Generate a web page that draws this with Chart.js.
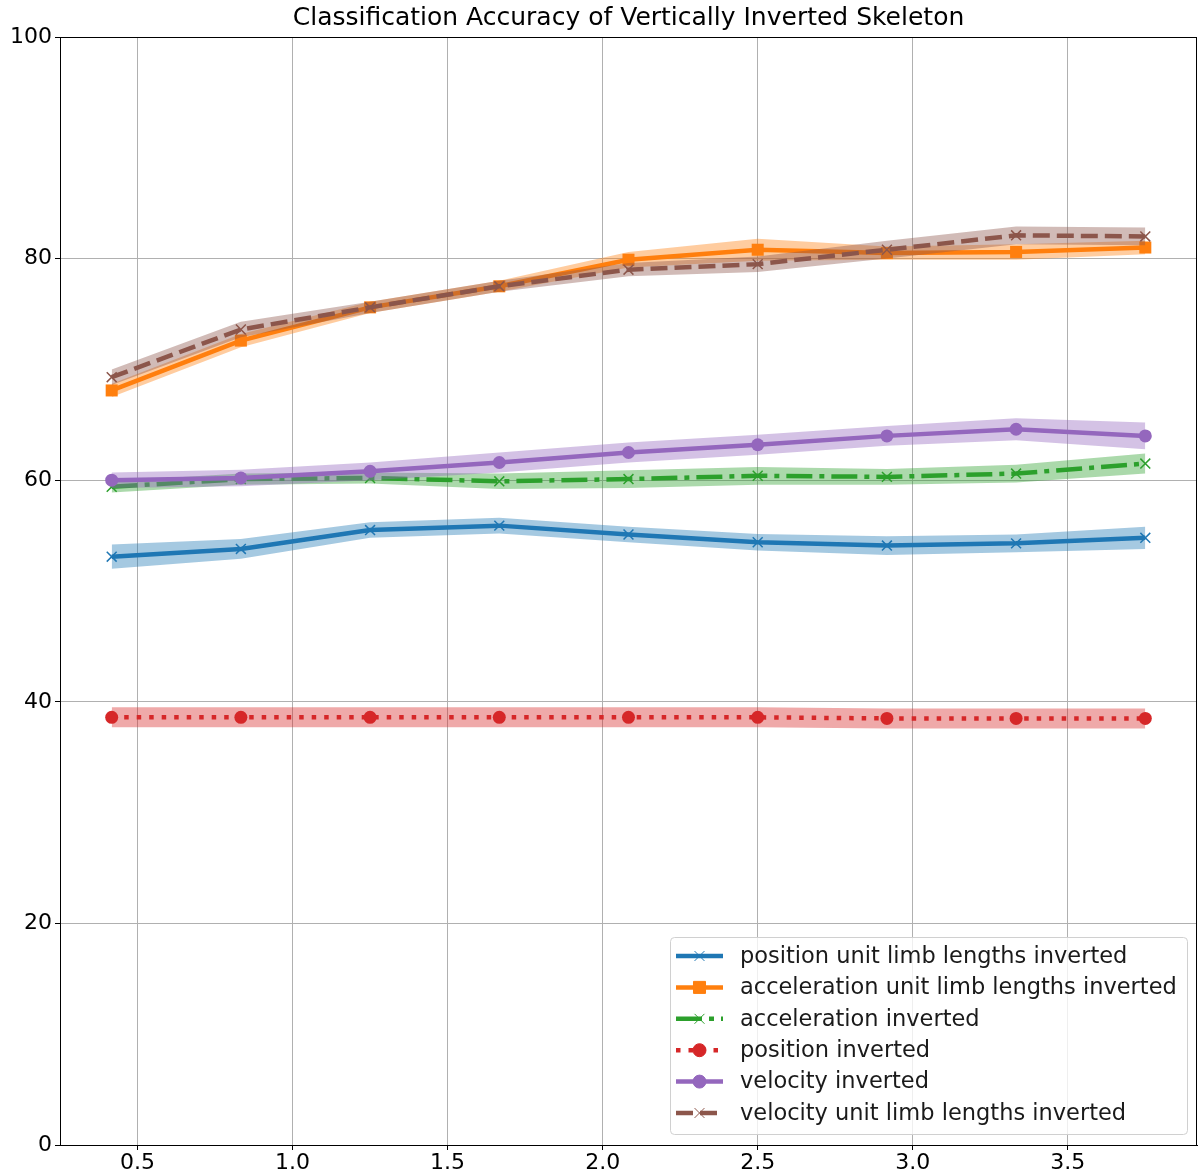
<!DOCTYPE html>
<html>
<head>
<meta charset="utf-8">
<script src="https://cdn.jsdelivr.net/npm/chart.js@4.4.1/dist/chart.umd.min.js"></script>
<style>
  html, body { margin: 0; padding: 0; background: #fff; overflow: hidden; }
  #wrap { width: 1198px; height: 1173px; }
  canvas { display: block; }
</style>
</head>
<body>
<div id="wrap"><canvas id="chart" width="1198" height="1173"></canvas></div>
<script>
// x positions of the runs
const xValues = [0.4167, 0.8333, 1.25, 1.6667, 2.0833, 2.5, 2.9167, 3.3333, 3.75];
const xTicks = [0.5, 1.0, 1.5, 2.0, 2.5, 3.0, 3.5];
const yTicks = [0, 20, 40, 60, 80, 100];

// series means
const posUnitInv = [53.1, 53.8, 55.5, 55.9, 55.1, 54.4, 54.1, 54.3, 54.8];
const accUnitInv = [68.1, 72.6, 75.6, 77.5, 79.9, 80.8, 80.5, 80.6, 81.0];
const accInv     = [59.4, 60.1, 60.2, 59.9, 60.1, 60.4, 60.3, 60.6, 61.5];
const posInv     = [38.6, 38.6, 38.6, 38.6, 38.6, 38.6, 38.5, 38.5, 38.5];
const velInv     = [60.0, 60.2, 60.8, 61.6, 62.5, 63.2, 64.0, 64.6, 64.0];
const velUnitInv = [69.3, 73.6, 75.6, 77.5, 79.0, 79.5, 80.8, 82.1, 82.0];

// half-width of the shaded bands
const posUnitSpread = [1.1, 0.9, 0.7, 0.7, 0.7, 0.75, 0.85, 0.8, 1.0];
const accUnitSpread = [0.6, 0.6, 0.5, 0.5, 0.7, 1.0, 0.6, 0.7, 0.6];
const accSpread     = [0.5, 0.5, 0.5, 0.7, 0.8, 0.8, 0.7, 0.8, 0.9];
const posSpread     = [0.9, 0.9, 0.9, 0.9, 0.9, 0.9, 0.9, 0.9, 0.9];
const velSpread     = [0.7, 0.75, 0.8, 0.9, 0.9, 0.9, 0.9, 1.0, 1.2];
const velUnitSpread = [0.7, 0.7, 0.5, 0.5, 0.6, 0.7, 0.8, 0.8, 0.8];

const FONT = "'DejaVu Sans', sans-serif";

const series = [
    { label: 'position unit limb lengths inverted', mean: posUnitInv, spread: posUnitSpread,
      color: '#1f77b4', band: 'rgba(31,119,180,0.4)', dash: [], style: 'crossRot', radius: 7, pbw: 1.5 },
    { label: 'acceleration unit limb lengths inverted', mean: accUnitInv, spread: accUnitSpread,
      color: '#ff7f0e', band: 'rgba(255,127,14,0.4)', dash: [], style: 'rect', radius: 8.5, pbw: 0 },
    { label: 'acceleration inverted', mean: accInv, spread: accSpread,
      color: '#2ca02c', band: 'rgba(44,160,44,0.4)', dash: [26, 7, 5, 7], style: 'crossRot', radius: 7, pbw: 1.5 },
    { label: 'position inverted', mean: posInv, spread: posSpread,
      color: '#d62728', band: 'rgba(214,39,40,0.4)', dash: [4.5, 8], style: 'circle', radius: 6.5, pbw: 0 },
    { label: 'velocity inverted', mean: velInv, spread: velSpread,
      color: '#9467bd', band: 'rgba(148,103,189,0.4)', dash: [], style: 'circle', radius: 6.5, pbw: 0 },
    { label: 'velocity unit limb lengths inverted', mean: velUnitInv, spread: velUnitSpread,
      color: '#8c564b', band: 'rgba(140,86,75,0.4)', dash: [17, 7], style: 'crossRot', radius: 7, pbw: 1.5 }
];

const toPoints = arr => arr.map((y, i) => ({ x: xValues[i], y: y }));

// build datasets: band upper/lower + main line per series
const datasets = [];
series.forEach((s, k) => {
    const base = 100 - k * 10;
    datasets.push({
        label: s.label + ' upper',
        data: toPoints(s.mean.map((m, i) => m + s.spread[i])),
        borderWidth: 0, pointRadius: 0, fill: '+1',
        backgroundColor: s.band, order: base + 1
    });
    datasets.push({
        label: s.label + ' lower',
        data: toPoints(s.mean.map((m, i) => m - s.spread[i])),
        borderWidth: 0, pointRadius: 0, fill: false,
        order: base + 1
    });
    datasets.push({
        label: s.label,
        data: toPoints(s.mean),
        borderColor: s.color,
        backgroundColor: s.color,
        borderWidth: 4.5,
        borderDash: s.dash,
        borderCapStyle: 'butt',
        tension: 0,
        fill: false,
        pointStyle: s.style,
        pointRadius: s.radius,
        pointBorderWidth: s.pbw,
        pointBorderColor: s.color,
        pointBackgroundColor: s.color,
        order: base
    });
});

// frame around the plot area (matplotlib box)
const frame = {
    id: 'frame',
    afterDraw(chart) {
        const { ctx, chartArea: a } = chart;
        ctx.save();
        ctx.strokeStyle = '#000';
        ctx.lineWidth = 1;
        ctx.strokeRect(Math.round(a.left) + 0.5, Math.round(a.top) + 0.5,
            Math.round(a.right - a.left) - 1, Math.round(a.bottom - a.top));
        ctx.restore();
    }
};

// legend in lower right of the axes, line sample + marker
const boxLegend = {
    id: 'boxLegend',
    afterDraw(chart) {
        const { ctx } = chart;
        const x0 = 670, y0 = 937, w = 517, h = 197, rowH = 31.4;
        ctx.save();
        ctx.beginPath();
        ctx.roundRect(x0 + 0.5, y0 + 0.5, w, h, 4);
        ctx.fillStyle = 'rgba(255,255,255,0.8)';
        ctx.fill();
        ctx.strokeStyle = '#d0d0d0';
        ctx.lineWidth = 1;
        ctx.stroke();
        ctx.font = '22.5px ' + FONT;
        ctx.textBaseline = 'middle';
        series.forEach((s, i) => {
            const cy = y0 + 19 + i * rowH;
            ctx.save();
            ctx.strokeStyle = s.color;
            ctx.lineWidth = 4.5;
            ctx.lineCap = 'butt';
            ctx.setLineDash(s.dash);
            ctx.beginPath();
            ctx.moveTo(676, cy);
            ctx.lineTo(723, cy);
            ctx.stroke();
            ctx.restore();
            ctx.save();
            ctx.strokeStyle = s.color;
            ctx.fillStyle = s.color;
            Chart.helpers.drawPoint(ctx, {
                pointStyle: s.style, radius: s.radius, rotation: 0,
                borderWidth: s.pbw || 1
            }, 699.5, cy);
            ctx.restore();
            ctx.fillStyle = '#1a1a1a';
            ctx.fillText(s.label, 740, cy + 1);
        });
        ctx.restore();
    }
};

new Chart(document.getElementById('chart'), {
    type: 'line',
    data: { datasets: datasets },
    options: {
        responsive: false,
        animation: false,
        layout: { autoPadding: false, padding: { left: 0, right: 1, top: 0, bottom: 0 } },
        plugins: {
            legend: { display: false },
            tooltip: { enabled: false },
            title: {
                display: true,
                fullSize: false,
                text: 'Classification Accuracy of Vertically Inverted Skeleton',
                color: '#000',
                font: { family: FONT, size: 25, weight: 'normal' },
                padding: { top: 3, bottom: 4 }
            }
        },
        scales: {
            x: {
                type: 'linear',
                min: 0.25,
                max: 3.9167,
                afterBuildTicks: scale => { scale.ticks = xTicks.map(v => ({ value: v })); },
                afterFit: scale => {
                    scale.height = 28;
                    scale.paddingLeft = 0;
                    scale.paddingRight = 0;
                },
                ticks: {
                    color: '#000',
                    font: { family: FONT, size: 22 },
                    padding: 0,
                    maxRotation: 0,
                    callback: v => v.toFixed(1)
                },
                grid: { color: '#b0b0b0', lineWidth: 1, tickLength: 5, tickColor: '#000' },
                border: { color: '#000', width: 1 }
            },
            y: {
                min: 0,
                max: 100,
                afterBuildTicks: scale => { scale.ticks = yTicks.map(v => ({ value: v })); },
                afterFit: scale => {
                    scale.width = 60;
                    scale.paddingTop = 0;
                    scale.paddingBottom = 0;
                },
                ticks: {
                    color: '#000',
                    font: { family: FONT, size: 22 },
                    padding: 3
                },
                grid: { color: '#b0b0b0', lineWidth: 1, tickLength: 5, tickColor: '#000' },
                border: { color: '#000', width: 1 }
            }
        }
    },
    plugins: [frame, boxLegend]
});
</script>
</body>
</html>
